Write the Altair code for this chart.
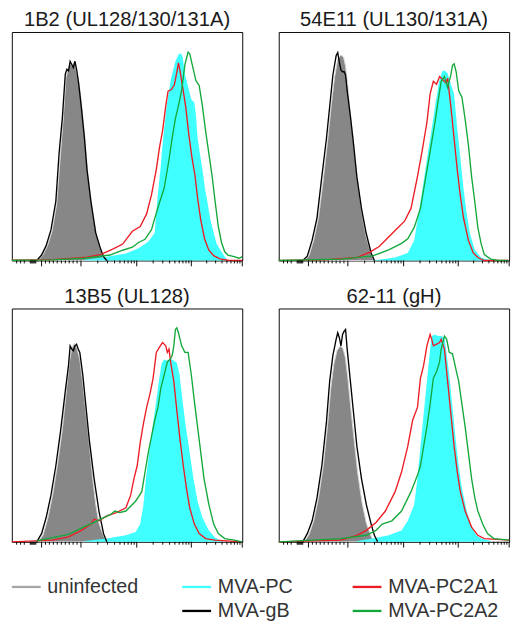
import math
import altair as alt
import pandas as pd

FONT = "Liberation Sans"

PANEL_TITLES = ["1B2 (UL128/130/131A)", "54E11 (UL130/131A)", "13B5 (UL128)", "62-11 (gH)"]
SERIES = ["uninfected", "MVA-PC", "MVA-gB", "MVA-PC2A1", "MVA-PC2A2"]
SERIES_COLORS = ["#a6a6a6", "#40ffff", "#000000", "#ed1c24", "#13a83b"]

# x: display channel (0-100 across the log axis), y: % of max
# ---------------- panel 1 : 1B2 ----------------
P1_UNINF_X = [11.5, 13.5, 15.5, 17.5, 19.5, 21, 22.3, 23.5, 24.5, 25.3, 26.2, 27, 27.8, 28.6, 29.5, 30.5, 31.8, 33, 34.5, 36.5, 38.5, 39.5, 40.5]
P1_UNINF_Y = [0, 2.5, 6.5, 13, 25, 45, 62, 80, 84, 86, 85, 87, 84, 80, 75, 66, 52, 38, 25, 12, 5, 2, 0]
P1_GB_X = [10.8, 12.9, 14.9, 17.0, 19.1, 20.5, 21.9, 23.2, 23.9, 24.6, 25.3, 26.0, 26.7, 27.4, 28.1, 29.0, 30.1, 31.5, 32.6, 34.3, 36.4, 38.5, 39.8, 41.2]
P1_GB_Y = [0, 2.4, 6.5, 13.5, 26.0, 46.8, 62.2, 81.6, 83.7, 83.0, 87.2, 85.8, 84.4, 87.2, 83.7, 77.5, 67.7, 53.8, 39.9, 26.0, 12.1, 5.1, 1.7, 0]
P1_PC_X = [31.5, 41.2, 49.5, 55.0, 59.2, 62.0, 63.1, 64.5, 65.7, 67.2, 68.9, 71.0, 72.3, 73.3, 74.1, 75.1, 76.5, 77.9, 79.2, 79.9, 80.6, 81.6, 82.7, 83.8, 84.8, 86.2, 87.6, 88.9, 91.0, 92.4, 93.8]
P1_PC_Y = [0.3, 1.7, 3.1, 5.4, 8.2, 12.1, 26.0, 39.9, 53.8, 67.7, 78.9, 87.2, 90.0, 90.7, 89.3, 81.6, 76.1, 70.5, 69.1, 63.6, 53.8, 46.9, 39.9, 31.6, 26.0, 17.7, 12.1, 7.2, 3.8, 1.7, 0]
P1_A1_X = [0, 17.7, 31.5, 38.5, 44.0, 48.1, 52.3, 55.7, 58.5, 60.6, 62.7, 64.1, 65.4, 66.8, 67.8, 69.2, 70.5, 71.6, 72.3, 73.0, 74.1, 75.4, 76.8, 78.1, 79.5, 80.6, 82.0, 83.7, 85.5, 87.6, 90.3, 93.8, 100]
P1_A1_Y = [0.1, 0.4, 1.3, 2.6, 5.1, 7.2, 12.8, 14.9, 20.4, 28.7, 39.9, 49.6, 56.6, 67.7, 74.1, 74.8, 76.8, 82.3, 86.5, 83.0, 76.1, 67.7, 55.2, 45.5, 37.1, 27.4, 17.7, 9.3, 4.5, 2.1, 0.7, 0.1, 0]
P1_A2_X = [0, 17.7, 31.5, 42.6, 48.1, 52.3, 55.0, 57.8, 60.6, 63.4, 66.1, 68.2, 69.6, 71.0, 72.3, 73.7, 75.1, 76.5, 77.2, 78.6, 79.9, 81.3, 82.7, 84.1, 85.5, 86.9, 88.2, 89.6, 91.0, 92.4, 93.8, 96.5, 98.6, 100]
P1_A2_Y = [0.1, 0.3, 1.0, 2.4, 4.5, 5.8, 7.9, 9.3, 13.5, 23.2, 31.6, 44.1, 53.8, 62.2, 67.7, 74.6, 85.7, 91.2, 90.5, 84.3, 78.7, 76.6, 67.7, 56.6, 46.9, 37.1, 26.0, 14.9, 7.9, 3.8, 2.4, 1.7, 1.0, 1.7]

# ---------------- panel 2 : 54E11 ----------------
P2_UNINF_X = [11.1, 13.1, 15.2, 17.3, 19.4, 21.4, 22.8, 24.2, 25.6, 27.0, 28.1, 29.0, 30.0, 31.1, 32.5, 33.9, 35.9, 38.0, 40.1, 41.1]
P2_UNINF_Y = [0, 2, 9, 19, 36, 54, 68, 80, 88, 90, 89, 85, 76, 64, 51, 37, 22, 10, 3, 0]
P2_GB_X = [10.4, 12.4, 14.5, 16.6, 18.7, 20.7, 22.1, 23.5, 24.9, 25.6, 26.3, 27.0, 27.7, 28.4, 29.0, 29.7, 31.1, 32.5, 33.9, 35.9, 38.0, 40.1, 41.5]
P2_GB_Y = [0, 1.9, 8.9, 18.6, 36.7, 53.4, 67.3, 81.2, 89.6, 91.0, 86.8, 83.3, 82.6, 82.6, 81.2, 74.3, 63.1, 50.6, 36.7, 22.8, 11.7, 3.3, 0]
P2_PC_X = [40.8, 50.5, 56.0, 58.8, 61.5, 63.6, 65.7, 67.8, 69.6, 70.9, 71.9, 73.3, 74.7, 76.1, 77.5, 78.8, 80.2, 81.6, 83.0, 85.1, 87.8, 92.0]
P2_PC_Y = [0, 1.3, 3.3, 8.9, 25.6, 39.5, 53.4, 67.3, 78.4, 82.6, 83.3, 81.9, 77.1, 72.9, 57.6, 45.2, 31.3, 20.2, 11.7, 4.7, 1.3, 0]
P2_A1_X = [0, 20.1, 33.9, 39.4, 43.6, 47.7, 50.5, 54.6, 57.4, 60.2, 62.2, 64.3, 65.7, 67.1, 68.5, 69.8, 71.2, 72.6, 73.3, 74.7, 76.1, 77.5, 78.8, 80.2, 82.3, 84.4, 86.4, 89.2, 99.6]
P2_A1_Y = [0, 0.3, 1.3, 3.6, 6.1, 10.3, 13.1, 17.2, 22.8, 36.7, 47.8, 60.4, 72.9, 78.4, 77.1, 80.5, 79.1, 77.7, 79.8, 67.3, 53.4, 39.5, 28.4, 18.6, 8.9, 3.3, 1.3, 0, 0]
P2_A2_X = [0, 27.0, 40.8, 47.7, 53.3, 56.0, 58.8, 61.5, 63.6, 65.7, 67.8, 69.2, 70.5, 71.9, 73.3, 74.7, 75.4, 76.1, 77.0, 78.1, 79.5, 80.9, 82.3, 83.7, 85.1, 86.4, 87.8, 89.2, 92.0, 95.4, 99.6]
P2_A2_Y = [0, 0.6, 2.0, 4.7, 7.5, 9.5, 14.5, 22.8, 35.3, 47.8, 60.4, 70.1, 78.4, 80.5, 75.7, 81.2, 85.4, 86.1, 82.6, 74.3, 71.5, 61.8, 50.6, 36.7, 25.6, 14.5, 7.5, 2.6, 0.6, 0, 0]

# ---------------- panel 3 : 13B5 ----------------
P3_UNINF_X = [11.5, 13.6, 15.6, 17.7, 19.8, 21.9, 23.7, 25.0, 26.0, 27.1, 28.2, 29.5, 30.8, 32.2, 33.6, 35.0, 36.4, 37.8, 39.2, 40.1, 41.0]
P3_UNINF_Y = [0, 3, 10, 20, 33, 48, 65, 77, 83, 85, 83, 78, 68, 55, 42, 28, 16, 8, 4, 2, 0]
P3_GB_X = [10.8, 12.9, 14.9, 17.0, 19.1, 21.2, 23.2, 24.6, 25.3, 26.0, 26.7, 27.4, 28.1, 28.8, 29.5, 30.8, 32.2, 33.6, 35.7, 37.8, 39.8, 41.2]
P3_GB_Y = [0, 3.5, 10.4, 20.1, 32.6, 47.9, 64.6, 75.7, 84.0, 82.6, 81.9, 84.0, 84.7, 82.6, 81.2, 71.5, 57.6, 43.8, 27.1, 13.2, 3.5, 0]
P3_PC_X = [31.5, 41.2, 49.5, 53.7, 55.7, 57.1, 58.2, 59.9, 61.9, 63.8, 65.0, 66.1, 67.5, 68.9, 70.3, 71.6, 72.8, 74.1, 75.5, 77.2, 78.8, 80.6, 82.7, 85.5, 88.2, 91.0]
P3_PC_Y = [0.4, 1.4, 2.8, 4.2, 7.6, 15.8, 27.1, 41.0, 54.9, 68.8, 76.4, 78.2, 77.6, 78.5, 77.6, 76.8, 71.5, 60.4, 49.3, 38.2, 27.1, 17.4, 10.4, 4.9, 1.8, 0.4]
P3_A1_X = [0, 17.7, 24.6, 30.2, 34.3, 35.7, 37.8, 41.2, 45.4, 49.5, 51.6, 53.0, 54.4, 55.7, 57.1, 58.5, 59.9, 61.3, 62.7, 64.0, 65.4, 66.8, 67.5, 68.2, 68.9, 70.3, 71.6, 73.0, 74.4, 75.8, 77.2, 79.2, 81.3, 84.1, 88.2, 100]
P3_A1_Y = [0, 0.7, 2.1, 4.9, 7.6, 9.7, 9.0, 11.1, 12.5, 14.6, 20.1, 27.1, 32.6, 42.4, 50.7, 57.6, 63.2, 70.1, 81.2, 83.3, 85.4, 84.0, 81.2, 82.6, 77.1, 68.8, 56.3, 43.8, 32.6, 22.9, 14.6, 7.6, 3.5, 1.4, 0.7, 0]
P3_A2_X = [10.8, 24.6, 31.5, 35.7, 39.8, 42.6, 44.7, 46.8, 49.5, 53.7, 56.4, 57.8, 59.2, 60.6, 62.0, 63.4, 64.7, 66.1, 67.5, 68.9, 69.6, 70.3, 71.0, 71.6, 72.3, 73.7, 75.1, 76.5, 77.9, 79.2, 80.6, 82.0, 83.4, 85.5, 87.6, 89.6, 92.4, 96.5, 100]
P3_A2_Y = [0.4, 3.2, 6.5, 8.3, 10.4, 11.5, 13.2, 12.5, 13.2, 17.4, 21.5, 29.9, 38.2, 45.1, 52.1, 57.6, 66.0, 71.5, 77.1, 78.5, 79.9, 84.0, 91.0, 91.7, 89.6, 84.0, 81.2, 81.2, 71.5, 60.4, 49.3, 38.2, 27.1, 16.0, 7.6, 3.5, 1.4, 0.7, 0]

# ---------------- panel 4 : 62-11 ----------------
P4_UNINF_X = [11.1, 13.1, 15.2, 17.3, 19.4, 21.2, 22.6, 23.9, 25.3, 26.7, 27.8, 28.9, 30.0, 31.4, 32.8, 34.2, 36.1, 38.0, 39.8, 41.1]
P4_UNINF_Y = [0, 3, 9, 19, 33, 50, 66, 76, 82, 84, 83, 79, 70, 56, 43, 30, 17, 8, 3, 0]
P4_GB_X = [10.4, 12.4, 14.5, 16.6, 18.7, 20.7, 22.1, 23.5, 24.9, 25.6, 26.3, 27.0, 27.7, 28.4, 29.0, 29.7, 31.1, 32.5, 33.9, 35.9, 38.0, 40.1, 41.5, 42.9]
P4_GB_Y = [0, 3.5, 9.0, 18.8, 32.6, 51.4, 68.8, 79.9, 86.8, 89.6, 87.5, 84.0, 88.9, 90.3, 91.0, 82.6, 68.8, 54.9, 41.0, 27.1, 16.0, 7.6, 2.8, 0]
P4_PC_X = [33.9, 40.8, 47.7, 53.3, 56.0, 58.8, 60.2, 61.5, 62.9, 64.3, 65.7, 66.4, 67.8, 69.2, 70.5, 71.9, 72.6, 74.0, 75.4, 76.8, 78.1, 79.5, 81.6, 83.7, 85.8, 87.8, 92.0]
P4_PC_Y = [0.4, 1.4, 2.8, 4.9, 9.0, 16.0, 27.1, 41.0, 54.9, 68.8, 82.6, 88.2, 88.9, 88.2, 88.2, 87.5, 82.6, 71.5, 57.6, 43.8, 32.6, 22.9, 13.2, 6.3, 2.8, 1.4, 0.4]
P4_A1_X = [0, 27.0, 33.9, 38.0, 42.2, 46.3, 50.5, 53.3, 56.0, 58.1, 60.2, 61.5, 62.9, 64.3, 65.7, 66.4, 67.1, 68.5, 69.8, 70.5, 71.9, 73.3, 74.7, 76.1, 77.5, 78.8, 80.9, 83.7, 86.4, 89.2, 100]
P4_A1_Y = [0, 0.7, 2.8, 4.9, 8.3, 13.2, 21.5, 29.9, 41.0, 52.1, 57.6, 70.1, 75.7, 84.0, 88.9, 86.8, 84.0, 84.7, 85.4, 86.8, 82.6, 68.8, 54.9, 41.0, 29.9, 21.5, 13.2, 6.3, 2.8, 1.4, 0.7]
P4_A2_X = [0, 27.0, 38.0, 42.2, 44.9, 49.1, 53.3, 57.4, 60.2, 61.5, 62.9, 64.3, 65.7, 67.1, 68.5, 69.8, 70.5, 71.9, 72.9, 74.0, 75.4, 76.8, 78.1, 79.5, 80.9, 82.3, 83.7, 85.1, 86.4, 88.5, 90.6, 93.4, 100]
P4_A2_Y = [0, 1.4, 2.8, 4.9, 7.6, 9.0, 13.2, 21.5, 28.5, 32.6, 41.0, 49.3, 59.0, 70.1, 72.9, 77.1, 82.6, 88.2, 86.8, 81.2, 80.6, 74.3, 68.8, 59.0, 49.3, 38.2, 27.1, 18.8, 13.2, 7.6, 3.5, 1.4, 0.7]

PANELS = [
    {"uninfected": (P1_UNINF_X, P1_UNINF_Y), "MVA-gB": (P1_GB_X, P1_GB_Y), "MVA-PC": (P1_PC_X, P1_PC_Y),
     "MVA-PC2A1": (P1_A1_X, P1_A1_Y), "MVA-PC2A2": (P1_A2_X, P1_A2_Y)},
    {"uninfected": (P2_UNINF_X, P2_UNINF_Y), "MVA-gB": (P2_GB_X, P2_GB_Y), "MVA-PC": (P2_PC_X, P2_PC_Y),
     "MVA-PC2A1": (P2_A1_X, P2_A1_Y), "MVA-PC2A2": (P2_A2_X, P2_A2_Y)},
    {"uninfected": (P3_UNINF_X, P3_UNINF_Y), "MVA-gB": (P3_GB_X, P3_GB_Y), "MVA-PC": (P3_PC_X, P3_PC_Y),
     "MVA-PC2A1": (P3_A1_X, P3_A1_Y), "MVA-PC2A2": (P3_A2_X, P3_A2_Y)},
    {"uninfected": (P4_UNINF_X, P4_UNINF_Y), "MVA-gB": (P4_GB_X, P4_GB_Y), "MVA-PC": (P4_PC_X, P4_PC_Y),
     "MVA-PC2A1": (P4_A1_X, P4_A1_Y), "MVA-PC2A2": (P4_A2_X, P4_A2_Y)},
]

# axis ticks (display channel positions)
MAJOR_TICKS = [12.9, 30.0, 54.2, 77.9, 100.0]
NEG_TICKS = [2.1, 3.8, 5.4, 8.0, 8.4, 8.8, 9.2, 9.6, 10.0, 10.4]
LIN_TICKS = [14.6, 16.3, 18.0, 19.7, 21.5, 23.2, 24.9, 26.6, 28.3]
LOG_DECADES = [30.0, 54.2, 77.9, 100.0]
minor = list(NEG_TICKS) + list(LIN_TICKS)
for a, b in zip(LOG_DECADES[:-1], LOG_DECADES[1:]):
    for m in range(2, 10):
        minor.append(a + (b - a) * math.log10(m))
MINOR_TICKS = minor

# legend layout (column / row of each entry)
LEG_LABELS = ["uninfected", "MVA-PC", "MVA-gB", "MVA-PC2A1", "MVA-PC2A2"]
LEG_COL = [0, 1, 1, 2, 2]
LEG_ROW = [0, 0, 1, 0, 1]

W = 240
XS = alt.Scale(domain=[0, 100], nice=False, zero=False)
YS = alt.Scale(domain=[0, 100], nice=False, zero=False)
major_df = pd.DataFrame({"t": MAJOR_TICKS})
minor_df = pd.DataFrame({"t": MINOR_TICKS})


def panel(i, h):
    d = PANELS[i]

    def df(name):
        xs, ys = d[name]
        return pd.DataFrame({"ch": xs, "cnt": ys})

    enc = dict(x=alt.X("ch:Q", scale=XS, axis=None), y=alt.Y("cnt:Q", scale=YS, axis=None))
    gray = alt.Chart(df("uninfected")).mark_area(color="#878787", stroke="#d4d4d4", strokeWidth=1).encode(**enc)
    cyan = alt.Chart(df("MVA-PC")).mark_area(color="#40ffff").encode(**enc)
    black = alt.Chart(df("MVA-gB")).mark_line(color="#000000", strokeWidth=1.4).encode(**enc)
    red = alt.Chart(df("MVA-PC2A1")).mark_line(color="#ed1c24", strokeWidth=1.4).encode(**enc)
    green = alt.Chart(df("MVA-PC2A2")).mark_line(color="#13a83b", strokeWidth=1.4).encode(**enc)
    tmaj = alt.Chart(major_df).mark_rule(color="black", strokeWidth=1).encode(
        x=alt.X("t:Q", scale=XS, axis=None), y=alt.value(h), y2=alt.value(h + 6))
    tmin = alt.Chart(minor_df).mark_rule(color="black", strokeWidth=1).encode(
        x=alt.X("t:Q", scale=XS, axis=None), y=alt.value(h), y2=alt.value(h + 3))
    return alt.layer(gray, cyan, black, red, green, tmin, tmaj).properties(
        width=W, height=h,
        title=alt.TitleParams(PANEL_TITLES[i], fontSize=21, font=FONT, fontWeight="normal",
                              color="#1a1a1a", offset=2, anchor="middle"),
    )


row1 = alt.hconcat(panel(0, 238), panel(1, 238), spacing=30)
row2 = alt.hconcat(panel(2, 243), panel(3, 243), spacing=30)

leg_df = pd.DataFrame({"label": LEG_LABELS, "col": LEG_COL, "row": LEG_ROW})
lx = alt.X("col:Q", scale=alt.Scale(domain=[0, 2], range=[0, 355]), axis=None)
ly = alt.Y("row:Q", scale=alt.Scale(domain=[0, 1], range=[0, 25]), axis=None)
lc = alt.Color("label:N", scale=alt.Scale(domain=SERIES, range=SERIES_COLORS), legend=None)
leg_sym = alt.Chart(leg_df).mark_point(
    shape="M-1,-0.08L1,-0.08L1,0.08L-1,0.08Z", filled=True, size=900, xOffset=15, opacity=1
).encode(x=lx, y=ly, color=lc)
leg_txt = alt.Chart(leg_df).mark_text(
    align="left", baseline="middle", dx=37, fontSize=20.5, font=FONT, color="#333333"
).encode(x=lx, y=ly, text="label:N")
legend = alt.layer(leg_sym, leg_txt).properties(width=510, height=25, view=alt.ViewConfig(stroke=None))

grid = alt.vconcat(row1, row2, spacing=19)
chart = alt.vconcat(grid, legend, spacing=30).properties(
    padding={"top": -12, "left": 0, "right": 0, "bottom": 0}
).configure_view(stroke="black", strokeWidth=1)

chart.save("out.html", embed_options={"renderer": "svg", "actions": False})
